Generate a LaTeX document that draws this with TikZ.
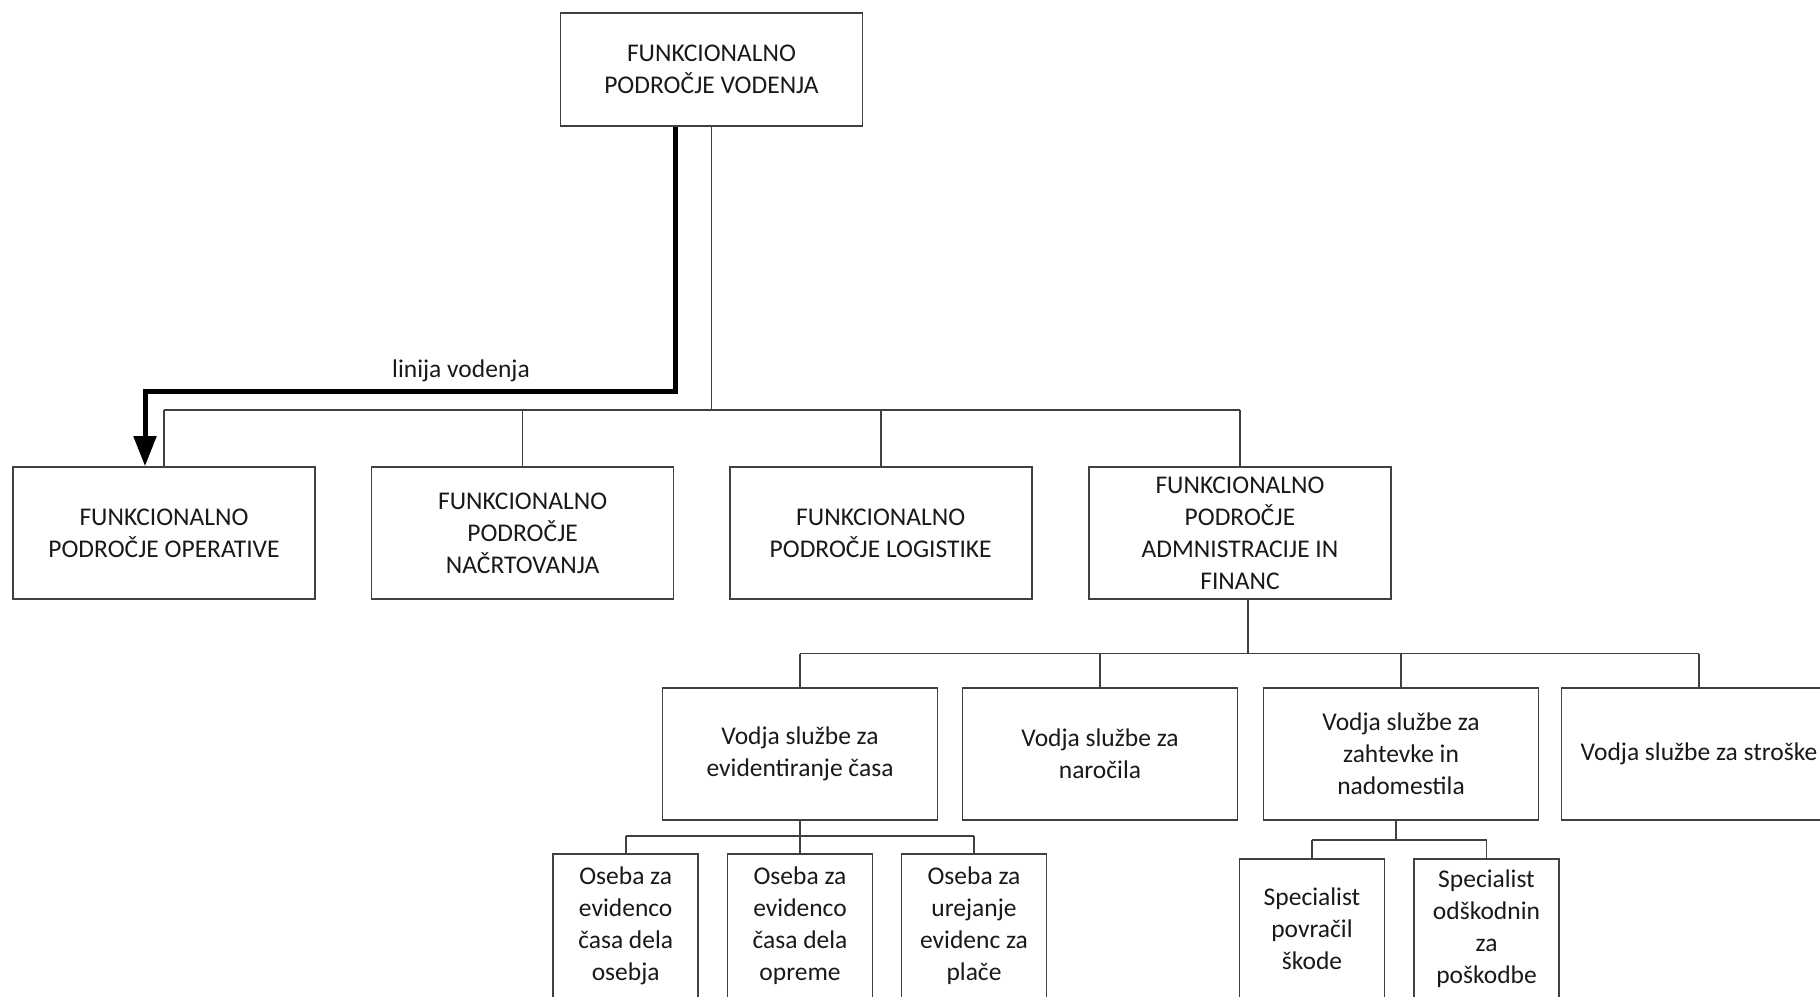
\documentclass[tikz,border=0pt]{standalone}
\usepackage{fontspec}
\setmainfont{Carlito}
\usetikzlibrary{arrows.meta}
\begin{document}
\begin{tikzpicture}[x=1pt,y=-1pt,
  every node/.style={font=\fontsize{25.5}{32}\selectfont, text=black!90},
  box/.style={draw=black!75, line width=1.6pt, align=center, inner sep=0pt},
  bigbox/.style={box, minimum width=302pt, minimum height=113pt},
  midbox/.style={box, minimum width=302pt, minimum height=132pt},
  subbox/.style={box, minimum width=275pt, minimum height=132pt},
  leafbox/.style={box, minimum width=145pt, minimum height=144pt},
  conn/.style={draw=black!75, line width=1.6pt},
  lead/.style={draw=black, line width=5pt, line join=miter,
    -{Triangle[length=30pt,width=22pt]}}]
\useasboundingbox (0,0) rectangle (1820,996);
\clip (0,0) rectangle (1820,996);

% top level
\node[bigbox] (top) at (711.5,69.5) {FUNKCIONALNO\\PODROČJE VODENJA};

% functional areas
\node[midbox] (op)  at (164,533)  {FUNKCIONALNO\\PODROČJE OPERATIVE};
\node[midbox] (nac) at (522.6,533) {FUNKCIONALNO\\PODROČJE\\NAČRTOVANJA};
\node[midbox] (log) at (880.7,533) {FUNKCIONALNO\\PODROČJE LOGISTIKE};
\node[midbox] (adm) at (1240,533) {FUNKCIONALNO\\PODROČJE\\ADMNISTRACIJE IN\\FINANC};

% services
\node[subbox] (sa) at (800,754)  {Vodja službe za\\evidentiranje časa};
\node[subbox] (sb) at (1100,754) {Vodja službe za\\naročila};
\node[subbox] (sc) at (1401,754) {Vodja službe za\\zahtevke in\\nadomestila};
\node[subbox] (sd) at (1699,754) {Vodja službe za stroške};

% staff
\node[leafbox] (a1) at (625.7,926) {Oseba za\\evidenco\\časa dela\\osebja};
\node[leafbox] (a2) at (800,926)   {Oseba za\\evidenco\\časa dela\\opreme};
\node[leafbox] (a3) at (974,926)   {Oseba za\\urejanje\\evidenc za\\plače};
\node[leafbox, minimum height=140pt] (c1) at (1312,929)   {Specialist\\povračil\\škode};
\node[leafbox, minimum height=140pt] (c2) at (1486.5,929) {Specialist\\odškodnin\\za\\poškodbe};

% bus levels
\coordinate (b1) at (0,410);
\coordinate (b2) at (0,653.5);
\coordinate (b3) at (0,836);
\coordinate (b4) at (0,840);
\coordinate (admx) at (1248,0);
\coordinate (scx) at (1396,0);

% top -> functional areas
\draw[conn] (top.south) -- (top.south |- b1);
\draw[conn] (op.north |- b1) -- (adm.north |- b1);
\foreach \n in {op,nac,log,adm} \draw[conn] (\n.north |- b1) -- (\n.north);

% administration -> services
\draw[conn] (adm.south -| admx) -- (admx |- b2);
\draw[conn] (sa.north |- b2) -- (sd.north |- b2);
\foreach \n in {sa,sb,sc,sd} \draw[conn] (\n.north |- b2) -- (\n.north);

% time records service -> staff
\draw[conn] (sa.south) -- (sa.south |- b3);
\draw[conn] (a1.north |- b3) -- (a3.north |- b3);
\foreach \n in {a1,a2,a3} \draw[conn] (\n.north |- b3) -- (\n.north);

% claims service -> specialists
\draw[conn] (sc.south -| scx) -- (scx |- b4);
\draw[conn] (c1.north |- b4) -- (c2.north |- b4);
\foreach \n in {c1,c2} \draw[conn] (\n.north |- b4) -- (\n.north);

% line of command
\coordinate (k1) at (675,391.5);
\coordinate (k2) at (145,391.5);
\draw[lead] (top.south -| k1) -- (k1) -- (k2) -- (k2 |- op.north);
\node (lbl) at (461,371) {linija vodenja};
\end{tikzpicture}
\end{document}
